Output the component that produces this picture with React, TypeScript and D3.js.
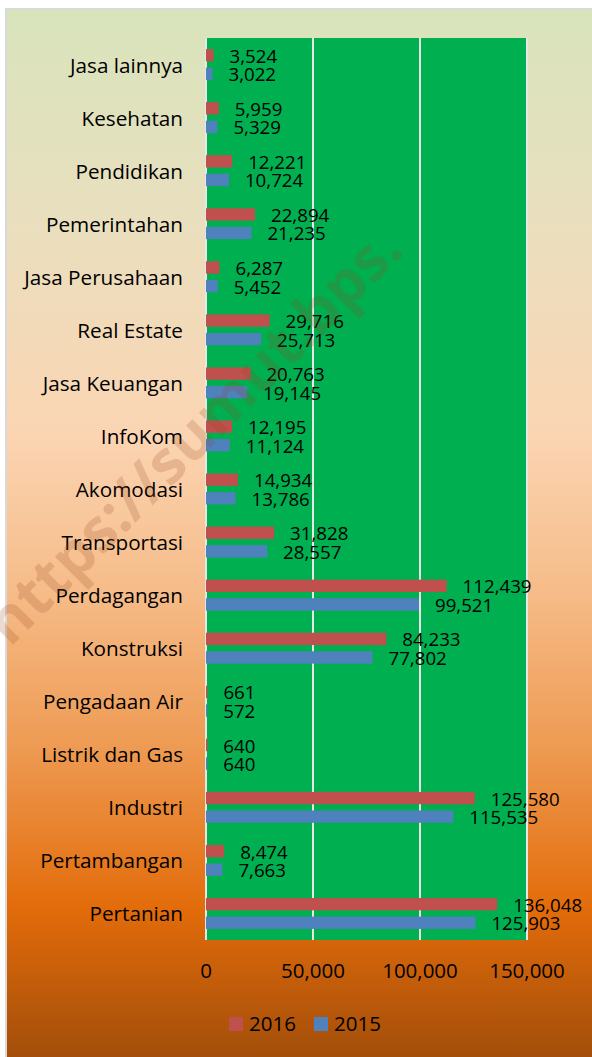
import React from "react";
import * as d3 from "d3";

const categories = [
  "Jasa lainnya", "Kesehatan", "Pendidikan", "Pemerintahan", "Jasa Perusahaan",
  "Real Estate", "Jasa Keuangan", "InfoKom", "Akomodasi", "Transportasi",
  "Perdagangan", "Konstruksi", "Pengadaan Air", "Listrik dan Gas", "Industri",
  "Pertambangan", "Pertanian",
];
const values2016 = [3524, 5959, 12221, 22894, 6287, 29716, 20763, 12195, 14934, 31828, 112439, 84233, 661, 640, 125580, 8474, 136048];
const values2015 = [3022, 5329, 10724, 21235, 5452, 25713, 19145, 11124, 13786, 28557, 99521, 77802, 572, 640, 115535, 7663, 125903];
const xTicks = [0, 50000, 100000, 150000];
const seriesNames = ["2016", "2015"];
const seriesColors = ["#c0504d", "#4f81bd"];

const W = 592, H = 1057;
const plot = { left: 206, right: 527, top: 38, bottom: 940 };
const FONT = "'Open Sans', 'Noto Sans', sans-serif";

export default function App() {
  const x = d3.scaleLinear().domain([0, 150000]).range([plot.left, plot.right]);
  const y = d3.scaleBand().domain(categories).range([plot.top, plot.bottom]).padding(0);
  const bw = y.bandwidth();
  const barH = bw * 0.232;
  const gap = bw * 0.118;
  const fmt = d3.format(",");
  const series = [values2016, values2015];

  return (
    <svg width={W} height={H} style={{ position: "absolute", left: 0, top: 0, display: "block" }} fontFamily={FONT}>
      <defs>
        <linearGradient id="bg" x1="0" y1="0" x2="0" y2="1">
          <stop offset="0" stopColor="#d8e4bc" />
          <stop offset="0.2" stopColor="#e9dfbe" />
          <stop offset="0.4" stopColor="#fbd5b3" />
          <stop offset="0.55" stopColor="#f6bc89" />
          <stop offset="0.7" stopColor="#ee9a52" />
          <stop offset="0.85" stopColor="#e36c0a" />
          <stop offset="1" stopColor="#9f4c0a" />
        </linearGradient>
      </defs>
      <rect x={0} y={0} width={W} height={H} fill="#ffffff" />
      <rect x={6} y={9} width={W + 10} height={H} fill="url(#bg)" stroke="#d9d9d9" strokeWidth={2} />
      <rect x={plot.left} y={plot.top} width={plot.right - plot.left} height={plot.bottom - plot.top} fill="#00b050" />
      {xTicks.map((t) => (
        <line key={"g" + t} x1={x(t)} x2={x(t)} y1={plot.top} y2={plot.bottom} stroke="#e6e6e6" strokeWidth={2} />
      ))}
      {categories.map((c, i) => {
        const cy = (y(c) as number) + bw / 2;
        const top = cy - gap / 2 - barH;
        return (
          <g key={c}>
            {series.map((vals, s) => {
              const by = s === 0 ? top : cy + gap / 2;
              return (
                <g key={s}>
                  <rect x={x(0)} y={by} width={x(vals[i]) - x(0)} height={barH} fill={seriesColors[s]} />
                  <text x={x(vals[i]) + 16} y={by + barH / 2} dominantBaseline="central" fontSize={18.7} fill="#000">
                    {fmt(vals[i])}
                  </text>
                </g>
              );
            })}
            <text x={183} y={cy} textAnchor="end" dominantBaseline="central" fontSize={20.7} fill="#000">{c}</text>
          </g>
        );
      })}
      {xTicks.map((t) => (
        <text key={"t" + t} x={x(t)} y={978} textAnchor="middle" fontSize={20.5} fill="#000">{fmt(t)}</text>
      ))}
      {seriesNames.map((n, s) => {
        const lx = s === 0 ? 229 : 314;
        return (
          <g key={n}>
            <rect x={lx} y={1017} width={14} height={14} fill={seriesColors[s]} />
            <text x={lx + 20} y={1031} fontSize={20.5} fill="#000">{n}</text>
          </g>
        );
      })}
      <text x={0} y={0} transform="translate(10,648) rotate(-45)" fontSize={60} fontWeight="bold" fill="rgba(150,70,30,0.2)" fontFamily={FONT}>
        https://sumut.bps.
      </text>
    </svg>
  );
}
